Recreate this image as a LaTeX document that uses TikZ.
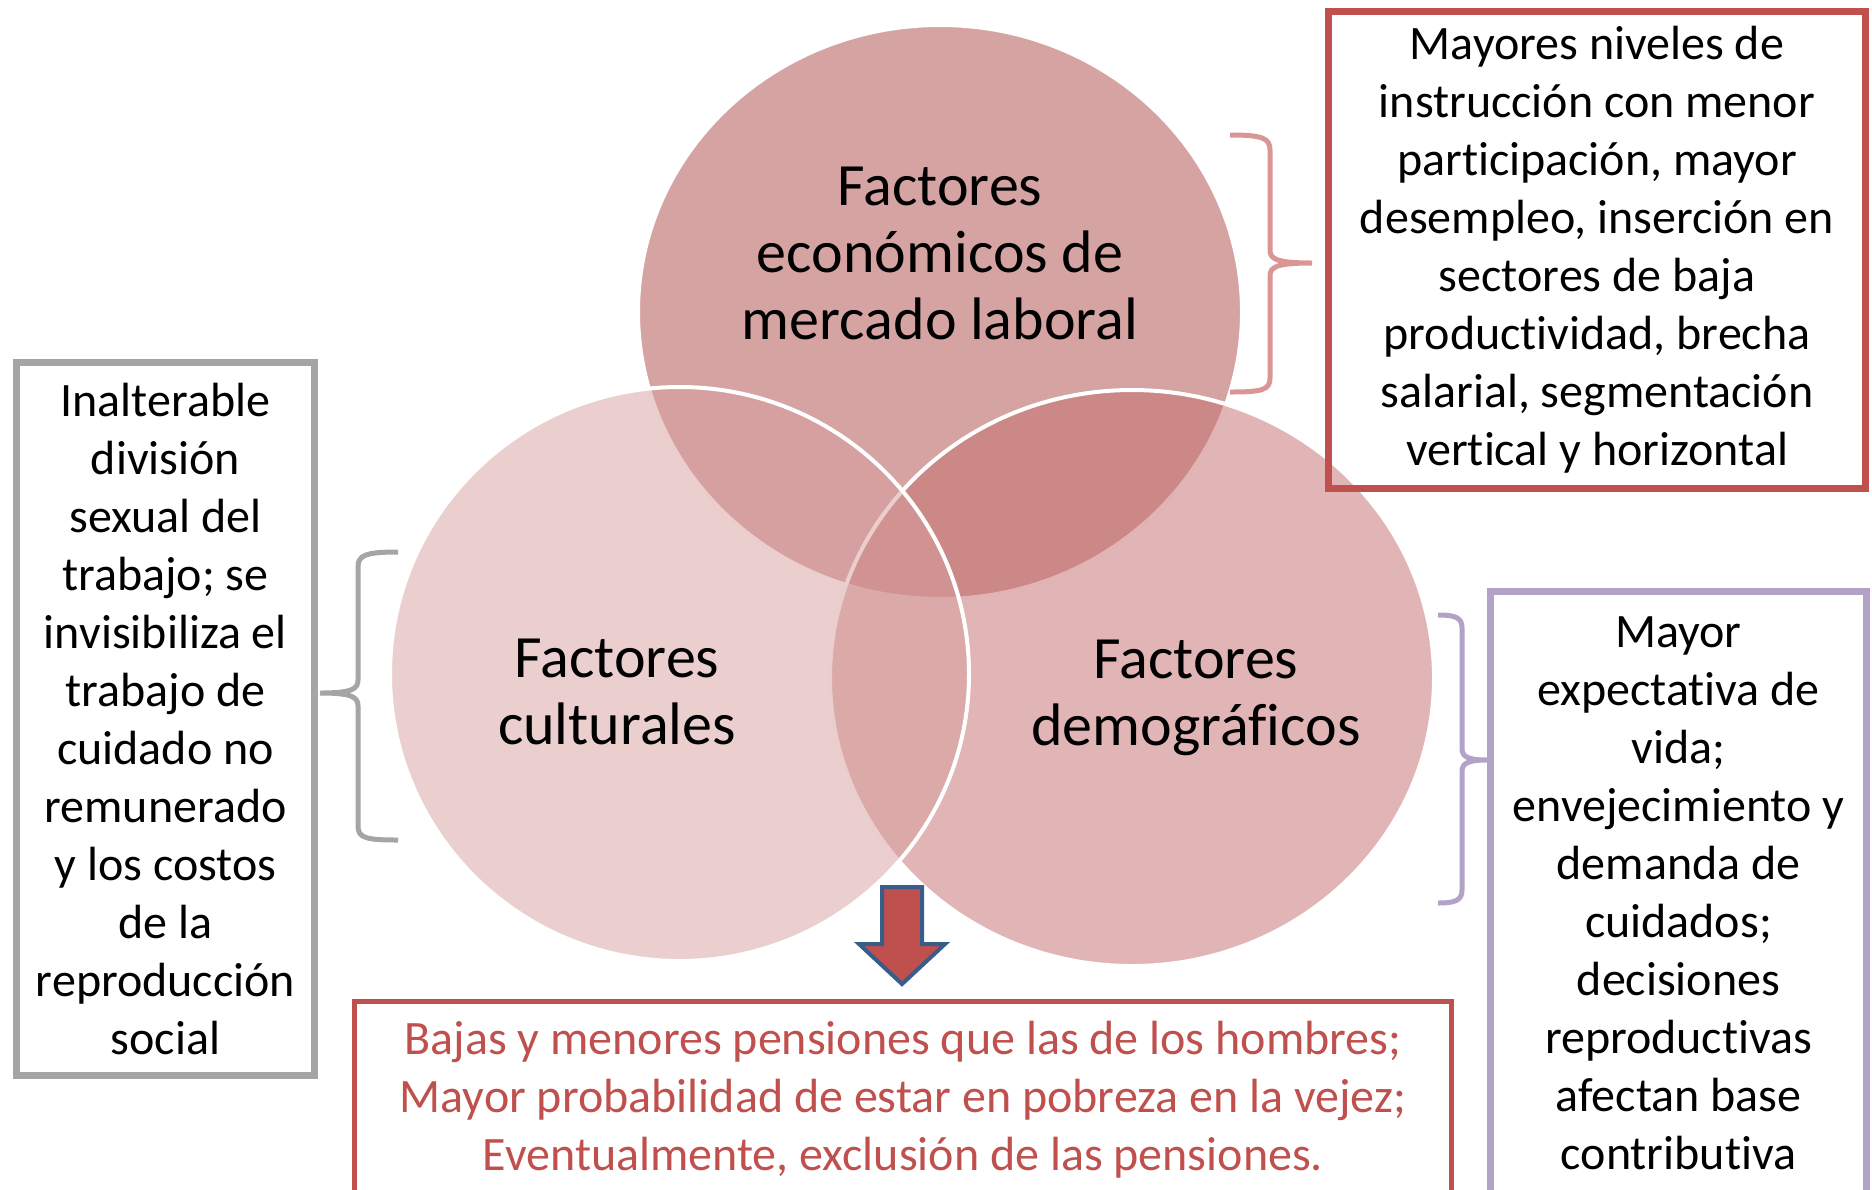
\documentclass[tikz,border=0pt]{standalone}
\usepackage{fontspec}
\setmainfont{Carlito}[RawFeature={-liga;-clig;-dlig}]
\usetikzlibrary{shapes.geometric}
\definecolor{redacc}{HTML}{C0504D}
\definecolor{topc}{RGB}{173,71,71}
\definecolor{rightc}{RGB}{195,107,107}
\definecolor{leftc}{RGB}{215,159,159}
\definecolor{pinkbrace}{HTML}{D99694}
\definecolor{greyc}{HTML}{A5A5A5}
\definecolor{purplec}{HTML}{B3A2C7}
\definecolor{arrowblue}{HTML}{385D8A}
\begin{document}
\begin{tikzpicture}[x=0.5pt,y=-0.5pt,
  venn/.style={ellipse, inner sep=0pt, outer sep=0pt, draw=white, line width=2pt, fill opacity=0.5},
  circlabel/.style={align=center, font=\fontsize{30}{33.5}\selectfont, inner sep=0pt},
  infobox/.style={draw, line width=3.5pt, align=center, font=\fontsize{24}{29}\selectfont, inner sep=0pt},
  bracepath/.style={line width=2.5pt},
  downarrow/.style={fill=redacc, draw=arrowblue, line width=2pt}]
\useasboundingbox (0,0) rectangle (1872,1189);
\clip (0,0) rectangle (1872,1189);
% Venn circles
\node[venn, fill=topc, minimum width=302pt, minimum height=287pt] (econ) at (940,312) {};
\node[venn, fill=rightc, minimum width=302pt, minimum height=288pt] (demo) at (1132,678) {};
\node[venn, fill=leftc, minimum width=289.5pt, minimum height=287pt] (cult) at (679.5,674) {};
% circle labels
\node[circlabel] (econlbl) at (940,253) {Factores\\económicos de\\mercado laboral};
\node[circlabel] (cultlbl) at (617,692) {Factores\\culturales};
\node[circlabel] (demolbl) at (1196,698) {Factores\\demográficos};
% boxes
\node[infobox, draw=redacc, minimum width=268.5pt, minimum height=238.5pt] (econbox) at (1597,250)
  {Mayores niveles de\\instrucción con menor\\participación, mayor\\desempleo, inserción en\\sectores de baja\\productividad, brecha\\salarial, segmentación\\vertical y horizontal};
\node[infobox, draw=greyc, minimum width=149pt, minimum height=356.5pt] (cultbox) at (165.5,719)
  {Inalterable\\división\\sexual del\\trabajo; se\\invisibiliza el\\trabajo de\\cuidado no\\remunerado\\y los costos\\de la\\reproducción\\social};
\node[infobox, draw=purplec, minimum width=188pt, minimum height=302pt] (demobox) at (1678.5,893)
  {Mayor\\expectativa de\\vida;\\envejecimiento y\\demanda de\\cuidados;\\decisiones\\reproductivas\\afectan base\\contributiva};
\node[infobox, draw=redacc, line width=2.5pt, text=redacc, minimum width=548.5pt, minimum height=99pt] (result) at (903,1100)
  {Bajas y menores pensiones que las de los hombres;\\Mayor probabilidad de estar en pobreza en la vejez;\\Eventualmente, exclusión de las pensiones.};
% braces
\draw[bracepath, draw=pinkbrace] (1230,135) .. controls (1262,135) and (1270,138) .. (1270,150) -- (1270,250)
  .. controls (1270,259) and (1276,263) .. (1312,263)
  .. controls (1276,263) and (1270,267) .. (1270,276) -- (1270,378)
  .. controls (1270,390) and (1262,392) .. (1230,392);
\draw[bracepath, draw=greyc] (398,552) .. controls (366,552) and (358,555) .. (358,567) -- (358,680)
  .. controls (358,689) and (352,693) .. (320,693)
  .. controls (352,693) and (358,697) .. (358,706) -- (358,826)
  .. controls (358,838) and (366,840) .. (398,840);
\draw[bracepath, draw=purplec] (1438,615) .. controls (1456,615) and (1462,618) .. (1462,628) -- (1462,748)
  .. controls (1462,756) and (1466,760) .. (1487,760)
  .. controls (1466,760) and (1462,764) .. (1462,772) -- (1462,890)
  .. controls (1462,900) and (1456,903) .. (1438,903);
% arrow
\draw[downarrow] (882,887) -- (922,887) -- (922,944) -- (945,944) -- (902,984) -- (859,944) -- (882,944) -- cycle;
\end{tikzpicture}
\end{document}
